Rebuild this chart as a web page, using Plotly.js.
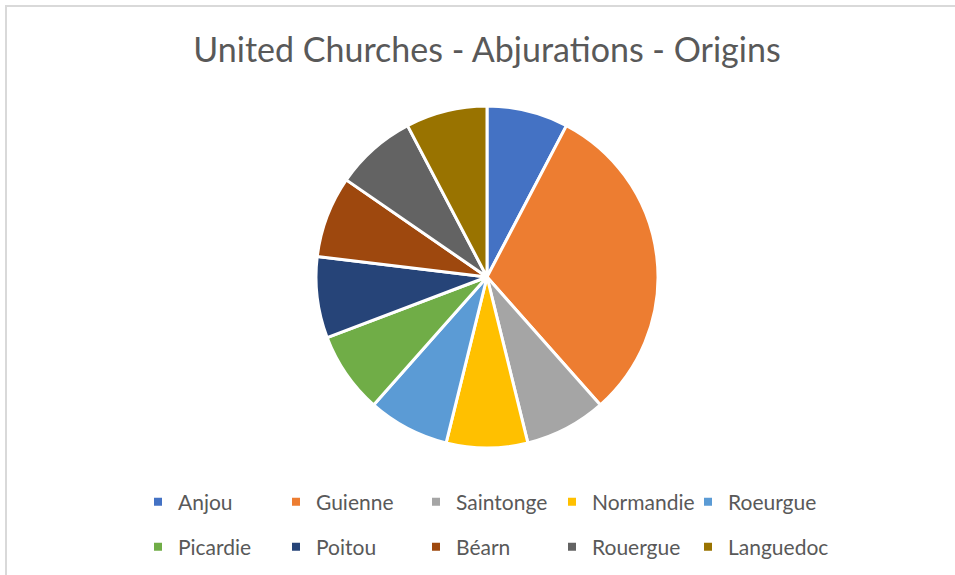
<!DOCTYPE html>
<html>
<head>
<meta charset="utf-8">
<script src="https://cdn.plot.ly/plotly-3.0.1.min.js"></script>
<style>
html,body{margin:0;padding:0;background:#fff;overflow:hidden;}
#chart{width:955px;height:575px;}
#frame{position:absolute;left:5px;top:5px;width:1200px;height:1200px;border:2px solid #d9d9d9;pointer-events:none;box-sizing:border-box;}
</style>
</head>
<body>
<div id="chart"></div>
<div id="frame"></div>
<script>
const categories = ["Anjou","Guienne","Saintonge","Normandie","Roeurgue","Picardie","Poitou","Béarn","Rouergue","Languedoc"];
const values = [1,4,1,1,1,1,1,1,1,1];
const colors = ["#4472C4","#ED7D31","#A5A5A5","#FFC000","#5B9BD5","#70AD47","#264478","#9E480E","#636363","#997300"];
const chartTitle = "United Churches - Abjurations - Origins";

const W = 955, H = 575;
const ml = 100, mr = 100;
const pw = W - ml - mr;
const cx = 487, cy = 277, r = 171;
const dx = (cx - ml) / pw, hw = 0.3;
const dyc = (H - cy) / H, hh = r / H;

const pie = {
  type: "pie",
  labels: categories,
  values: values,
  sort: false,
  direction: "clockwise",
  rotation: 0,
  textinfo: "none",
  hoverinfo: "label+value+percent",
  showlegend: false,
  marker: {colors: colors, line: {color: "#ffffff", width: 3}},
  domain: {x: [dx - hw, dx + hw], y: [dyc - hh, dyc + hh]}
};

// legend layout: 5 columns x 2 rows, one legend box per entry
const colX = [158, 296, 436, 572, 708];
const rowY = [502, 547];
const legName = (i) => i === 0 ? "legend" : "legend" + (i + 1);

const legendTraces = categories.map((c, i) => ({
  type: "scatter",
  mode: "markers",
  x: [null], y: [null],
  name: c,
  hoverinfo: "skip",
  marker: {symbol: "square", size: 8, color: colors[i]},
  legend: legName(i),
  showlegend: true
}));

const layout = {
  width: W, height: H,
  margin: {l: ml, r: mr, t: 0, b: 0, autoexpand: false},
  paper_bgcolor: "#ffffff",
  plot_bgcolor: "rgba(0,0,0,0)",
  font: {family: "Lato, 'Open Sans', sans-serif", color: "#595959"},
  title: {text: chartTitle, font: {size: 34, color: "#595959", family: "Lato, sans-serif"},
          x: 487 / W, xref: "container", xanchor: "center", y: 1 - 50 / H, yref: "container", yanchor: "middle"},
  xaxis: {visible: false},
  yaxis: {visible: false},
  showlegend: true
};

categories.forEach((c, i) => {
  const col = i % 5, row = Math.floor(i / 5);
  layout[legName(i)] = {
    orientation: "h",
    x: (colX[col] - 1 - 19) / W, xref: "container", xanchor: "left",
    y: (H - rowY[row]) / H, yref: "container", yanchor: "middle",
    font: {size: 21, color: "#595959", family: "Lato, sans-serif"},
    itemsizing: "trace",
    bgcolor: "rgba(0,0,0,0)"
  };
});

Plotly.newPlot("chart", [pie].concat(legendTraces), layout, {displayModeBar: false, staticPlot: true});
</script>
</body>
</html>
